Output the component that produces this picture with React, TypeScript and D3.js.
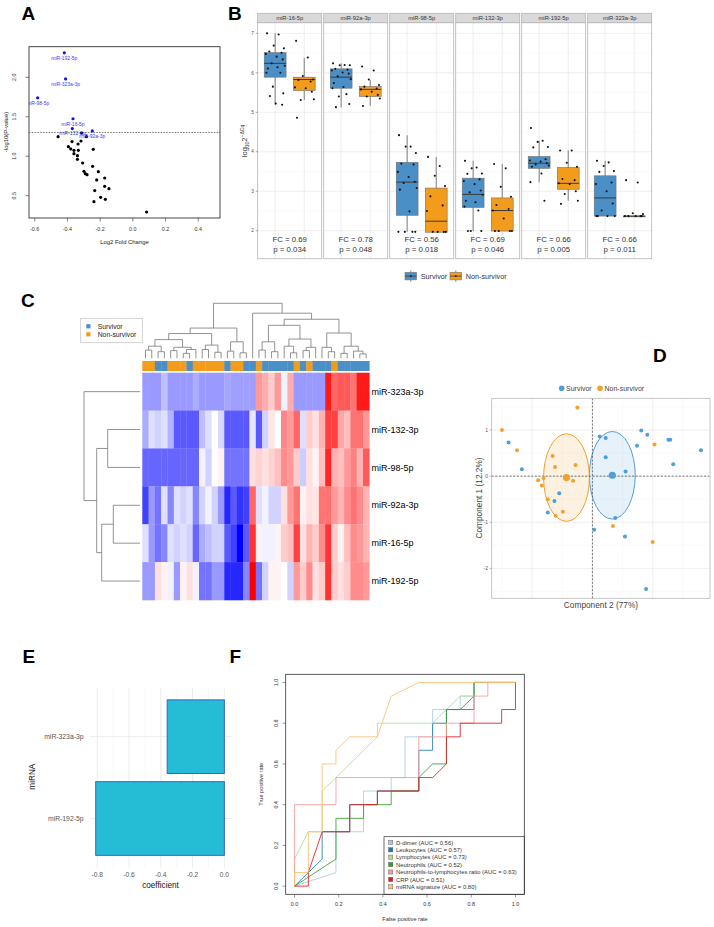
import React from 'react'
import * as d3 from 'd3'

const FONT = '"Liberation Sans", Arial, Helvetica, sans-serif'
const SURV_BOX = '#4a8fc6'
const NON_BOX = '#f39c1c'
const SURV_DOT = '#4e9fd8'
const NON_DOT = '#f4a030'

// ---------- A: volcano ----------
const sigNames = ['miR-192-5p', 'miR-323a-3p', 'miR-98-5p', 'miR-16-5p', 'miR-132-3p', 'miR-92a-3p']
const sigLogFC = [-0.419, -0.411, -0.582, -0.366, -0.37, -0.248]
const sigLogP = [2.31, 1.98, 1.74, 1.475, 1.35, 1.32]
const restLogFC = [-0.457, -0.313, -0.284, -0.317, -0.372, -0.394, -0.38, -0.335, -0.36, -0.36, -0.339, -0.333, -0.339, -0.242, -0.307, -0.246, -0.299, -0.291, -0.28, -0.211, -0.221, -0.172, -0.233, -0.172, -0.146, -0.197, -0.238, -0.168, 0.084]
const restLogP = [1.248, 1.294, 1.248, 1.193, 1.185, 1.121, 1.092, 1.155, 1.075, 1.032, 1.007, 1.075, 0.961, 1.087, 0.914, 0.872, 0.809, 0.779, 0.766, 0.804, 0.699, 0.724, 0.564, 0.619, 0.589, 0.479, 0.424, 0.454, 0.293]

// ---------- B: boxplots ----------
const boxMirnas = ['miR-16-5p', 'miR-92a-3p', 'miR-98-5p', 'miR-132-3p', 'miR-192-5p', 'miR-323a-3p']
// [lower whisker, q1, median, q3, upper whisker]
const survStats = [
  [5.2, 5.89, 6.24, 6.51, 7.0],
  [5.12, 5.61, 5.89, 6.1, 6.24],
  [1.97, 2.39, 3.23, 3.73, 4.42],
  [1.99, 2.59, 2.92, 3.33, 3.77],
  [3.23, 3.58, 3.71, 3.88, 4.28],
  [2.37, 2.37, 2.83, 3.39, 3.77],
]
const nonStats = [
  [5.31, 5.55, 5.83, 5.89, 6.38],
  [5.16, 5.4, 5.58, 5.65, 5.82],
  [1.96, 1.96, 2.24, 3.08, 3.87],
  [1.99, 1.99, 2.51, 2.83, 3.69],
  [2.76, 3.05, 3.2, 3.6, 4.03],
  [2.37, 2.37, 2.37, 2.37, 2.37],
]
const survPts = [
  [7.0, 6.97, 6.69, 6.62, 6.54, 6.51, 6.48, 6.41, 6.34, 6.24, 6.18, 6.11, 6.14, 6.0, 6.0, 5.65, 5.48, 5.41, 5.22, 5.19],
  [6.24, 6.2, 6.19, 6.19, 6.1, 6.08, 6.06, 6.01, 5.98, 5.91, 5.84, 5.74, 5.64, 5.61, 5.46, 5.4, 5.21, 5.13],
  [4.42, 4.13, 4.13, 3.97, 3.7, 3.68, 3.49, 3.36, 3.24, 3.21, 3.08, 3.04, 2.49, 1.97, 1.97, 1.97, 1.97],
  [3.77, 3.6, 3.58, 3.45, 3.44, 3.3, 3.26, 3.18, 3.02, 2.97, 2.91, 2.76, 2.72, 2.61, 2.51, 1.99, 1.99, 1.99],
  [4.6, 4.28, 4.25, 4.12, 4.11, 3.81, 3.78, 3.75, 3.71, 3.68, 3.65, 3.62, 3.45, 3.23, 2.76],
  [3.77, 3.73, 3.64, 3.51, 3.49, 3.22, 3.18, 3.0, 2.69, 2.51, 2.37, 2.37, 2.37, 2.37],
]
const nonPts = [
  [6.81, 6.39, 5.92, 5.83, 5.82, 5.78, 5.63, 5.61, 5.52, 5.31, 5.33, 4.86],
  [6.16, 6.06, 5.83, 5.69, 5.65, 5.6, 5.58, 5.52, 5.44, 5.4, 5.35, 5.16],
  [3.87, 3.64, 3.39, 3.13, 2.87, 2.64, 2.5, 1.97, 1.97, 1.97, 1.97],
  [3.69, 3.58, 3.11, 2.86, 2.65, 2.55, 2.51, 2.31, 1.99, 1.99, 1.99, 1.99],
  [4.03, 4.03, 3.72, 3.62, 3.31, 3.28, 3.2, 3.18, 3.0, 2.93, 2.76, 2.68],
  [3.28, 3.22, 2.44, 2.42, 2.37, 2.37, 2.37, 2.37, 2.37],
]
const jitterOffsets = [-0.28, 0.12, -0.05, 0.3, -0.2, 0.22, -0.32, 0.05, 0.26, -0.12, 0.33, -0.25, 0.08, -0.3, 0.18, -0.08, 0.28, -0.18, 0.02, 0.24]
const fcValues = ['0.69', '0.78', '0.56', '0.69', '0.66', '0.66']
const pValues = ['0.034', '0.048', '0.018', '0.046', '0.005', '0.011']
const groups = ['Survivor', 'Non-survivor']

// ---------- C: heatmap ----------
const heatRows = ['miR-323a-3p', 'miR-132-3p', 'miR-98-5p', 'miR-92a-3p', 'miR-16-5p', 'miR-192-5p']
const heat323 = [-0.8, -0.8, -0.8, -0.5, -0.8, -0.8, -0.8, -0.8, -0.65, -0.8, -0.8, -0.8, -0.8, -0.7, -0.75, -0.75, -0.75, -0.75, 0.8, 0.65, 0.4, 0.8, -0.1, 0.65, -0.8, -0.8, -0.8, -0.8, -0.8, 1.8, 1.2, 1.3, 1.3, 1.1, 1.8, 1.8]
const heat132 = [-0.65, -0.25, -0.35, -0.25, -0.6, -1.3, -1.3, -1.3, -1.3, -0.5, -0.25, 0, -0.3, -1.3, -1.3, -1.3, -1.3, -0.2, -1.3, -0.35, 0.2, 0, 0.95, 0.8, 1.2, -0.25, 0.4, 0.25, 0.6, 1.5, 1.5, 0.7, 0.5, 1.1, 1.1, 0.8]
const heat98 = [-1.2, -1.2, -1.2, -1.2, -1.2, -1.2, -1.2, -1.2, -1.2, -0.1, -0.35, 0, 0.1, -1.1, -1.1, -1.1, -1.1, 0.25, 0.35, 0.25, 0.35, 0.5, 0.9, 0.8, 0.4, -0.4, 0.25, 0.1, 0.5, 1.7, 0.6, 0.5, 0.8, 1.0, 0.6, 1.3]
const heat92 = [-1.5, -0.8, -1.1, -0.25, -0.95, -0.25, -0.35, -0.25, -0.95, -0.35, -0.1, -0.35, -0.8, -1.7, -1.3, -1.6, -1.5, 1.2, -0.25, -0.1, -0.35, -0.35, 0.25, 0.8, 1.1, 0.1, 0.25, 0.2, 1.1, 1.1, 0.8, 0.6, 0.9, 1.1, 0.9, 0.6]
const heat16 = [-0.25, -0.8, -1.1, -0.95, -0.25, -0.35, -0.25, -0.35, -1.2, -0.65, -0.5, -0.35, -0.35, -1.3, -1.5, -2.0, -1.3, 1.6, 0.1, -0.1, -0.1, 0.1, 0.4, 0.5, 1.5, 0.25, 0.6, 0.4, 0.9, 1.6, 0.4, 0.1, 0.5, 0.9, 0.8, 0.6]
const heat192 = [-0.8, -0.8, 0.25, 0.1, -0.1, -0.8, 0.1, 0.25, -0.1, -1.1, -1.1, -0.8, -0.8, -1.7, -1.7, -1.7, -0.95, 2.0, -1.1, -0.35, 0.1, 0.1, 0, -0.35, 0.8, 0.4, 0.9, 0.25, 0.4, 1.6, 0.4, 0.25, 0.4, 0.9, 0.9, 0.8]
const heatValues = [heat323, heat132, heat98, heat92, heat16, heat192]
// S = survivor, N = non-survivor (column order of the heatmap)
const colGroups = ['N', 'N', 'S', 'S', 'N', 'N', 'N', 'S', 'N', 'N', 'N', 'N', 'N', 'S', 'N', 'N', 'S', 'S', 'N', 'S', 'S', 'S', 'S', 'S', 'N', 'S', 'N', 'S', 'S', 'S', 'N', 'S', 'S', 'S', 'S', 'S']

type Tree = number | [Tree, Tree, number]
const colTree: Tree = [
  [
    [
      [[[0, 1, 1.5], [2, 3, 1.2], 2.2], [[4, 5, 1.4], [[6, 7, 0.9], 8, 1.6], 2.0], 3.4],
      [[9, 10, 1.6], [11, 12, 1.1], 2.4],
      4.5,
    ],
    [[13, 14, 1.3], [15, 16, 1.0], 3.0],
    5.5,
  ],
  [
    17,
    [
      [[[18, 19, 1.5], [20, 21, 1.2], 3.0], [[22, [23, 24, 1.0], 2.2], [[25, 26, 1.4], 27, 2.0], 3.5], 6.0],
      [[28, [29, 30, 1.2], 2.0], [[31, 32, 0.9], [33, [34, 35, 0.8], 1.3], 2.2], 4.6],
      7.1,
    ],
    8.2,
  ],
  10,
]
const rowTree: Tree = [0, [[1, 2, 32.3], [[3, 4, 26.7], 5, 38.3], 43.3], 56]

// ---------- D: PLS-DA scores ----------
const survC2 = [-1.39, -1.17, -0.55, -0.63, -0.74, 0.12, 0.22, 0.22, 0.55, 0.38, 0.03, 0.54, 0.81, 0.91, 0.74, 1.26, 1.29, 1.34, 1.8, 0.89]
const survC1 = [0.73, 0.15, -0.37, -0.54, -0.79, 0.86, 0.83, 0.41, 0.1, -0.91, -1.16, -1.31, 0.99, 0.9, 0.66, 0.79, 0.79, 0.26, 0.56, -2.45]
const nonC2 = [-1.5, -1.25, -0.66, -0.62, -0.9, -0.81, -0.84, -0.74, -0.61, -0.49, -0.32, -0.28, -0.25, 1.03, 0.34, 1.0]
const nonC1 = [1.0, 0.56, 0.44, 0.2, -0.09, -0.04, -0.2, -0.5, -0.86, -0.77, -0.1, 0.24, 1.49, 0.69, -1.08, -1.43]
const centroidC2 = [0.33, -0.43]
const centroidC1 = [0.02, -0.03]
const ellipseR2 = [0.38, 0.38]
const ellipseR1 = [0.95, 0.95]

// ---------- E: coefficients ----------
const coefMirnas = ['miR-323a-3p', 'miR-192-5p']
const coefValues = [-0.36, -0.81]

// ---------- F: ROC ----------
const rocLabels = [
  'D-dimer (AUC = 0.56)',
  'Leukocytes (AUC = 0.57)',
  'Lymphocytes (AUC = 0.73)',
  'Neutrophils (AUC = 0.52)',
  'Neutrophils-to-lymphocytes ratio (AUC = 0.63)',
  'CRP (AUC = 0.51)',
  'miRNA signature (AUC = 0.80)',
]
const rocColors = ['#a6cee3', '#1f78b4', '#b2df8a', '#33a02c', '#fb9a99', '#e31a1c', '#fdbf6f']
const rocDdimer = [[0, 0], [0.1875, 0.067], [0.1875, 0.267], [0.3125, 0.267], [0.3125, 0.467], [0.4375, 0.467], [0.4375, 0.533], [0.5, 0.533], [0.5, 0.733], [0.625, 0.733], [0.625, 0.867], [0.75, 0.867], [0.75, 0.933], [0.8125, 0.933], [0.8125, 1], [1, 1]]
const rocLeuko = [[0, 0], [0.125, 0.133], [0.125, 0.267], [0.25, 0.267], [0.25, 0.4], [0.375, 0.4], [0.375, 0.467], [0.5625, 0.467], [0.5625, 0.667], [0.625, 0.667], [0.625, 0.8], [0.6875, 0.8], [0.6875, 0.867], [0.8125, 0.867], [0.8125, 1], [1, 1]]
const rocLympho = [[0, 0], [0, 0.133], [0.0625, 0.267], [0.125, 0.267], [0.125, 0.467], [0.1875, 0.533], [0.375, 0.733], [0.375, 0.8], [0.625, 0.8], [0.6875, 0.867], [0.75, 0.933], [0.8125, 0.933], [0.8125, 1], [1, 1]]
const rocNeutro = [[0, 0], [0.1875, 0.133], [0.1875, 0.333], [0.3125, 0.333], [0.3125, 0.4], [0.4375, 0.4], [0.4375, 0.467], [0.5625, 0.467], [0.5625, 0.533], [0.625, 0.6], [0.6875, 0.6], [0.6875, 0.867], [0.75, 0.867], [0.8125, 0.933], [0.8125, 1], [1, 1]]
const rocNLR = [[0, 0], [0, 0.4], [0.1875, 0.4], [0.1875, 0.533], [0.5625, 0.533], [0.5625, 0.733], [0.6875, 0.733], [0.6875, 0.8], [0.8125, 0.8], [0.8125, 0.933], [0.875, 0.933], [0.875, 1], [1, 1]]
const rocCRP = [[0, 0], [0.0625, 0], [0.0625, 0.067], [0.125, 0.267], [0.25, 0.267], [0.25, 0.4], [0.375, 0.4], [0.375, 0.467], [0.5625, 0.467], [0.5625, 0.533], [0.625, 0.533], [0.6875, 0.6], [0.6875, 0.733], [0.75, 0.733], [0.75, 0.8], [0.9375, 0.8], [0.9375, 0.867], [1, 0.867], [1, 1]]
const rocMirna = [[0, 0], [0, 0.067], [0.0625, 0.067], [0.0625, 0.267], [0.125, 0.267], [0.125, 0.6], [0.1875, 0.6], [0.1875, 0.667], [0.25, 0.733], [0.375, 0.733], [0.4375, 0.933], [0.5625, 1], [1, 1]]
const rocCurves = [rocDdimer, rocLeuko, rocLympho, rocNeutro, rocNLR, rocCRP, rocMirna]

const f1 = (v: number) => v.toFixed(1)

const PanelLetter = ({ x, y, t }: { x: number; y: number; t: string }) => (
  <text x={x} y={y} fontFamily={FONT} fontWeight="bold" fontSize={19} fill="#000">{t}</text>
)

// ---------- panels ----------
const Volcano = () => {
  const x = d3.scaleLinear().domain([-0.635, 0.533]).range([29, 220])
  const y = d3.scaleLinear().domain([0.217, 2.388]).range([218, 46.7])
  const thr = y(-Math.log10(0.05))
  return (
    <g fontFamily={FONT}>
      <clipPath id="clipA"><rect x={29} y={46.7} width={191} height={171.3} /></clipPath>
      <line x1={29} x2={220} y1={thr} y2={thr} stroke="#444" strokeWidth={0.7} strokeDasharray="1.6,1.2" />
      {restLogFC.map((v, i) => <circle key={i} cx={x(v)} cy={y(restLogP[i])} r={1.6} fill="#000" />)}
      {sigLogFC.map((v, i) => <circle key={i} cx={x(v)} cy={y(sigLogP[i])} r={1.6} fill="#1010f0" />)}
      <g clipPath="url(#clipA)">
        {sigNames.map((n, i) => (
          <text key={n} x={x(sigLogFC[i])} y={y(sigLogP[i]) + 6.8} textAnchor="middle" fontSize={5} fill="#3a3aff">{n}</text>
        ))}
      </g>
      <rect x={29} y={46.7} width={191} height={171.3} fill="none" stroke="#333" strokeWidth={0.9} />
      {x.ticks(6).filter(t => t >= -0.6 && t <= 0.4).map(t => (
        <g key={t}>
          <line x1={x(t)} x2={x(t)} y1={218} y2={221.5} stroke="#333" strokeWidth={0.6} />
          <text x={x(t)} y={231} textAnchor="middle" fontSize={5.4} fill="#333">{f1(t)}</text>
        </g>
      ))}
      {[0.5, 1, 1.5, 2].map(t => (
        <g key={t}>
          <line x1={29} x2={25.5} y1={y(t)} y2={y(t)} stroke="#333" strokeWidth={0.6} />
          <text transform={`translate(15.5,${y(t)}) rotate(-90)`} textAnchor="middle" fontSize={5.4} fill="#333">{f1(t)}</text>
        </g>
      ))}
      <text x={124.5} y={244} textAnchor="middle" fontSize={5.9} fill="#222">Log2 Fold Change</text>
      <text transform="translate(7.5,132) rotate(-90)" textAnchor="middle" fontSize={5.9} fill="#222">-log10(P-value)</text>
    </g>
  )
}

const Boxplots = () => {
  const facet = d3.scaleBand().domain(boxMirnas).range([257.7, 651.7]).paddingInner(0.03)
  const bw = facet.bandwidth()
  const cat = d3.scalePoint().domain(groups).range([0, bw]).padding(0.6)
  const step = cat.step()
  const half = step * 0.375
  const y = d3.scaleLinear().domain([1.29, 7.27]).range([258.7, 22.7])
  const major = [2, 3, 4, 5, 6, 7]
  const minor = [2.5, 3.5, 4.5, 5.5, 6.5]
  const fills = [SURV_BOX, NON_BOX]
  return (
    <g fontFamily={FONT}>
      {boxMirnas.map((m, fi) => {
        const x0 = facet(m) as number
        const stats = [survStats[fi], nonStats[fi]]
        const pts = [survPts[fi], nonPts[fi]]
        return (
          <g key={m}>
            <rect x={x0} y={22.7} width={bw} height={236} fill="#fff" />
            {minor.map(t => <line key={t} x1={x0} x2={x0 + bw} y1={y(t)} y2={y(t)} stroke="#f4f4f4" strokeWidth={0.5} />)}
            {major.map(t => <line key={t} x1={x0} x2={x0 + bw} y1={y(t)} y2={y(t)} stroke="#e6e6e6" strokeWidth={0.7} />)}
            {groups.map(g => <line key={g} x1={x0 + (cat(g) as number)} x2={x0 + (cat(g) as number)} y1={22.7} y2={258.7} stroke="#e6e6e6" strokeWidth={0.7} />)}
            {groups.map((g, gi) => {
              const cx = x0 + (cat(g) as number)
              const [lo, q1, med, q3, hi] = stats[gi]
              return (
                <g key={g}>
                  <line x1={cx} x2={cx} y1={y(hi)} y2={y(lo)} stroke="#8a8a8a" strokeWidth={1.1} />
                  <rect x={cx - half} y={y(q3)} width={half * 2} height={Math.max(0.8, y(q1) - y(q3))} fill={fills[gi]} stroke="#707070" strokeWidth={0.6} />
                  <line x1={cx - half} x2={cx + half} y1={y(med)} y2={y(med)} stroke="#3a3a3a" strokeWidth={1} />
                  {pts[gi].map((v, i) => (
                    <circle key={i} cx={cx + jitterOffsets[i % jitterOffsets.length] * step} cy={y(v)} r={1.05} fill="#111" />
                  ))}
                </g>
              )
            })}
            <text x={x0 + bw / 2} y={242.3} textAnchor="middle" fontSize={7.8} fill="#333">FC = {fcValues[fi]}</text>
            <text x={x0 + bw / 2} y={252.3} textAnchor="middle" fontSize={7.8} fill="#333">p = {pValues[fi]}</text>
            <rect x={x0} y={22.7} width={bw} height={236} fill="none" stroke="#b5b5b5" strokeWidth={0.8} />
            <rect x={x0} y={13.3} width={bw} height={9.4} fill="#d9d9d9" stroke="#b5b5b5" strokeWidth={0.8} />
            <text x={x0 + bw / 2} y={20.3} textAnchor="middle" fontSize={5.8} fill="#333">{m}</text>
          </g>
        )
      })}
      {major.map(t => (
        <g key={t}>
          <line x1={255.7} x2={257.7} y1={y(t)} y2={y(t)} stroke="#555" strokeWidth={0.5} />
          <text x={254} y={y(t) + 1.7} textAnchor="end" fontSize={4.8} fill="#555">{t}</text>
        </g>
      ))}
      <text transform="translate(247,141) rotate(-90)" textAnchor="middle" fontSize={7.5} fill="#333">
        log<tspan fontSize={5} dy={1.8}>10</tspan><tspan dy={-1.8}>2</tspan><tspan fontSize={5} dy={-3.2}>−ΔCq</tspan>
      </text>
      {groups.map((g, gi) => {
        const kx = gi === 0 ? 405 : 450
        return (
          <g key={g}>
            <line x1={kx + 5.8} x2={kx + 5.8} y1={270.5} y2={281.8} stroke="#777" strokeWidth={0.9} />
            <rect x={kx} y={272.3} width={11.6} height={7.6} fill={fills[gi]} stroke="#777" strokeWidth={0.6} />
            <line x1={kx} x2={kx + 11.6} y1={276.1} y2={276.1} stroke="#3a3a3a" strokeWidth={0.8} />
            <circle cx={kx + 5.8} cy={276.1} r={0.9} fill="#111" />
            <text x={kx + 15.8} y={278.6} fontSize={7.2} fill="#333">{g}</text>
          </g>
        )
      })}
    </g>
  )
}

type Seg = [number, number, number, number]
function dendro(node: Tree, leafPos: (i: number) => number): { pos: number; h: number; segs: Seg[] } {
  if (typeof node === 'number') return { pos: leafPos(node), h: 0, segs: [] }
  const [a, b, h] = node
  const A = dendro(a, leafPos)
  const B = dendro(b, leafPos)
  const segs: Seg[] = [...A.segs, ...B.segs, [A.pos, A.h, A.pos, h], [B.pos, B.h, B.pos, h], [A.pos, h, B.pos, h]]
  return { pos: (A.pos + B.pos) / 2, h, segs }
}

const Heatmap = () => {
  const cols = d3.range(colGroups.length)
  const x = d3.scaleBand<number>().domain(cols).range([142.3, 369.3])
  const y = d3.scaleBand().domain(heatRows).range([372.7, 600])
  const color = d3.scaleLinear<string>().domain([-2, 0, 2]).range(['#0000ff', '#ffffff', '#ff0000']).clamp(true)
  const colH = d3.scaleLinear().domain([0, 10]).range([358.3, 303.3])
  const colD = dendro(colTree, i => (x(i) as number) + x.bandwidth() / 2)
  const rowD = dendro(rowTree, i => (y(heatRows[i]) as number) + y.bandwidth() / 2)
  const annColor = (g: string) => (g === 'S' ? SURV_BOX : NON_BOX)
  return (
    <g fontFamily={FONT}>
      {colD.segs.map((s, i) => (
        <line key={i} x1={s[0]} x2={s[2]} y1={colH(s[1])} y2={colH(s[3])} stroke="#777" strokeWidth={0.8} />
      ))}
      {rowD.segs.map((s, i) => (
        <line key={i} y1={s[0]} y2={s[2]} x1={140 - s[1]} x2={140 - s[3]} stroke="#777" strokeWidth={0.8} />
      ))}
      {colGroups.map((g, i) => (
        <rect key={i} x={x(i)} y={361} width={x.bandwidth() + 0.3} height={10} fill={annColor(g)} />
      ))}
      {heatRows.map((r, ri) =>
        heatValues[ri].map((v, ci) => (
          <rect key={r + ci} x={x(ci)} y={y(r)} width={x.bandwidth() + 0.3} height={y.bandwidth() + 0.3} fill={color(v)} />
        ))
      )}
      {heatRows.map(r => (
        <text key={r} x={371.5} y={(y(r) as number) + y.bandwidth() / 2 + 3.2} fontSize={9} fill="#000">{r}</text>
      ))}
      <rect x={80.7} y={318.3} width={61.6} height={24.4} fill="#fff" stroke="#c8c8c8" strokeWidth={0.8} />
      <rect x={86.3} y={324.2} width={4.2} height={4.2} fill={SURV_BOX} />
      <text x={97.7} y={328.6} fontSize={6.8} fill="#222">Survivor</text>
      <rect x={86.3} y={332.2} width={4.2} height={4.2} fill={NON_BOX} />
      <text x={97.7} y={336.6} fontSize={6.8} fill="#222">Non-survivor</text>
    </g>
  )
}

const Scores = () => {
  const x = d3.scaleLinear().domain([-1.67, 1.95]).range([491.7, 710])
  const y = d3.scaleLinear().domain([-2.65, 1.69]).range([598.3, 398.3])
  const xMajor = [-1, 0, 1]
  const xMinor = [-1.5, -0.5, 0.5, 1.5]
  const yMajor = [-2, -1, 0, 1]
  const yMinor = [-2.5, -1.5, -0.5, 0.5, 1.5]
  const dotCols = [SURV_DOT, NON_DOT]
  return (
    <g fontFamily={FONT}>
      <rect x={491.7} y={398.3} width={218.3} height={200} fill="#fff" />
      {xMinor.map(t => <line key={t} x1={x(t)} x2={x(t)} y1={398.3} y2={598.3} stroke="#f3f3f3" strokeWidth={0.5} />)}
      {yMinor.map(t => <line key={t} y1={y(t)} y2={y(t)} x1={491.7} x2={710} stroke="#f3f3f3" strokeWidth={0.5} />)}
      {xMajor.map(t => <line key={t} x1={x(t)} x2={x(t)} y1={398.3} y2={598.3} stroke="#e8e8e8" strokeWidth={0.7} />)}
      {yMajor.map(t => <line key={t} y1={y(t)} y2={y(t)} x1={491.7} x2={710} stroke="#e8e8e8" strokeWidth={0.7} />)}
      {centroidC2.map((c, i) => (
        <ellipse key={i} cx={x(c)} cy={y(centroidC1[i])} rx={x(c + ellipseR2[i]) - x(c)} ry={y(centroidC1[i]) - y(centroidC1[i] + ellipseR1[i])}
          fill={dotCols[i]} fillOpacity={0.14} stroke={dotCols[i]} strokeWidth={1} />
      ))}
      <line x1={x(0)} x2={x(0)} y1={398.3} y2={598.3} stroke="#555" strokeWidth={0.8} strokeDasharray="2,1.6" />
      <line y1={y(0)} y2={y(0)} x1={491.7} x2={710} stroke="#555" strokeWidth={0.8} strokeDasharray="2,1.6" />
      {survC2.map((v, i) => <circle key={'s' + i} cx={x(v)} cy={y(survC1[i])} r={2} fill={SURV_DOT} />)}
      {nonC2.map((v, i) => <circle key={'n' + i} cx={x(v)} cy={y(nonC1[i])} r={2} fill={NON_DOT} />)}
      {centroidC2.map((c, i) => <circle key={'c' + i} cx={x(c)} cy={y(centroidC1[i])} r={3.6} fill={dotCols[i]} />)}
      <rect x={491.7} y={398.3} width={218.3} height={200} fill="none" stroke="#b8b8b8" strokeWidth={0.8} />
      {yMajor.map(t => (
        <g key={t}>
          <line x1={489.5} x2={491.7} y1={y(t)} y2={y(t)} stroke="#777" strokeWidth={0.5} />
          <text x={488} y={y(t) + 1.8} textAnchor="end" fontSize={5} fill="#555">{t < 0 ? '-' + Math.abs(t) : t}</text>
        </g>
      ))}
      <text x={601} y={608} textAnchor="middle" fontSize={8.3} fill="#444">Component 2 (77%)</text>
      <text transform="translate(481.5,498) rotate(-90)" textAnchor="middle" fontSize={8.3} fill="#444">Component 1 (12.2%)</text>
      <circle cx={561.7} cy={388.3} r={2.8} fill={SURV_DOT} />
      <text x={566} y={390.8} fontSize={7} fill="#444">Survivor</text>
      <circle cx={600} cy={388.3} r={2.8} fill={NON_DOT} />
      <text x={604.5} y={390.8} fontSize={7} fill="#444">Non-survivor</text>
    </g>
  )
}

const Coefficients = () => {
  const x = d3.scaleLinear().domain([-0.846, 0.047]).range([90, 231.8])
  const y = d3.scalePoint().domain(coefMirnas).range([687.6, 867.6]).padding(0.6)
  const bh = y.step() * 0.9
  const major = [-0.8, -0.6, -0.4, -0.2, 0]
  const minor = [-0.7, -0.5, -0.3, -0.1]
  return (
    <g fontFamily={FONT}>
      {minor.map(t => <line key={t} x1={x(t)} x2={x(t)} y1={687.6} y2={867.6} stroke="#f2f2f2" strokeWidth={0.6} />)}
      {major.map(t => <line key={t} x1={x(t)} x2={x(t)} y1={687.6} y2={867.6} stroke="#e6e6e6" strokeWidth={0.8} />)}
      {coefMirnas.map(m => <line key={m} x1={90} x2={231.8} y1={y(m)} y2={y(m)} stroke="#e6e6e6" strokeWidth={0.8} />)}
      {coefMirnas.map((m, i) => (
        <rect key={m} x={x(coefValues[i])} y={(y(m) as number) - bh / 2} width={x(0) - x(coefValues[i])} height={bh}
          fill="#25bdd5" stroke="#3452d1" strokeWidth={0.9} />
      ))}
      {major.map(t => (
        <text key={t} x={x(t)} y={876.8} textAnchor="middle" fontSize={6.6} fill="#555">{f1(t)}</text>
      ))}
      {coefMirnas.map(m => (
        <text key={m} x={83.5} y={(y(m) as number) + 2.3} textAnchor="end" fontSize={6.8} fill="#555">{m}</text>
      ))}
      <text x={160.5} y={887.5} textAnchor="middle" fontSize={8.2} fill="#111">coefficient</text>
      <text transform="translate(34.8,776.7) rotate(-90)" textAnchor="middle" fontSize={8.2} fill="#111">miRNA</text>
    </g>
  )
}

const Roc = () => {
  const x = d3.scaleLinear().domain([-0.04, 1.04]).range([285.7, 524.3])
  const y = d3.scaleLinear().domain([-0.04, 1.04]).range([894.3, 674.3])
  const line = d3.line<number[]>().x(d => x(d[0])).y(d => y(d[1]))
  const ticks = [0, 0.2, 0.4, 0.6, 0.8, 1]
  return (
    <g fontFamily={FONT}>
      {rocCurves.map((c, i) => (
        <path key={i} d={line(c) as string} fill="none" stroke={rocColors[i]} strokeWidth={1} strokeOpacity={0.85} />
      ))}
      <rect x={384} y={836.7} width={140.3} height={57.6} fill="#fff" stroke="#333" strokeWidth={0.7} />
      {rocLabels.map((l, i) => (
        <g key={l}>
          <rect x={388.6} y={840.3 + i * 7.4} width={4.2} height={4.2} fill={rocColors[i]} stroke="#555" strokeWidth={0.4} />
          <text x={396} y={844.6 + i * 7.4} fontSize={5.9} fill="#333">{l}</text>
        </g>
      ))}
      <rect x={285.7} y={674.3} width={238.6} height={220} fill="none" stroke="#333" strokeWidth={0.8} />
      {ticks.map(t => (
        <g key={t}>
          <line x1={x(t)} x2={x(t)} y1={894.3} y2={897.5} stroke="#333" strokeWidth={0.5} />
          <text x={x(t)} y={905.5} textAnchor="middle" fontSize={5.4} fill="#333">{f1(t)}</text>
          <line x1={285.7} x2={282.5} y1={y(t)} y2={y(t)} stroke="#333" strokeWidth={0.5} />
          <text transform={`translate(277.5,${y(t)}) rotate(-90)`} textAnchor="middle" fontSize={5.4} fill="#333">{f1(t)}</text>
        </g>
      ))}
      <text x={405} y={921} textAnchor="middle" fontSize={5.6} fill="#333">False positive rate</text>
      <text transform="translate(262.5,784.3) rotate(-90)" textAnchor="middle" fontSize={5.6} fill="#333">True positive rate</text>
    </g>
  )
}

export default function App() {
  return (
    <div style={{ position: 'absolute', left: 0, top: 0 }}>
      <svg width={714} height={927} viewBox="0 0 714 927" style={{ display: 'block', background: '#fff' }}>
        <rect width={714} height={927} fill="#fff" />
        <Volcano />
        <Boxplots />
        <Heatmap />
        <Scores />
        <Coefficients />
        <Roc />
        <PanelLetter x={21.5} y={20} t="A" />
        <PanelLetter x={228} y={19.5} t="B" />
        <PanelLetter x={21} y={307} t="C" />
        <PanelLetter x={653} y={362} t="D" />
        <PanelLetter x={22.5} y={662.5} t="E" />
        <PanelLetter x={229.5} y={662.5} t="F" />
      </svg>
    </div>
  )
}
